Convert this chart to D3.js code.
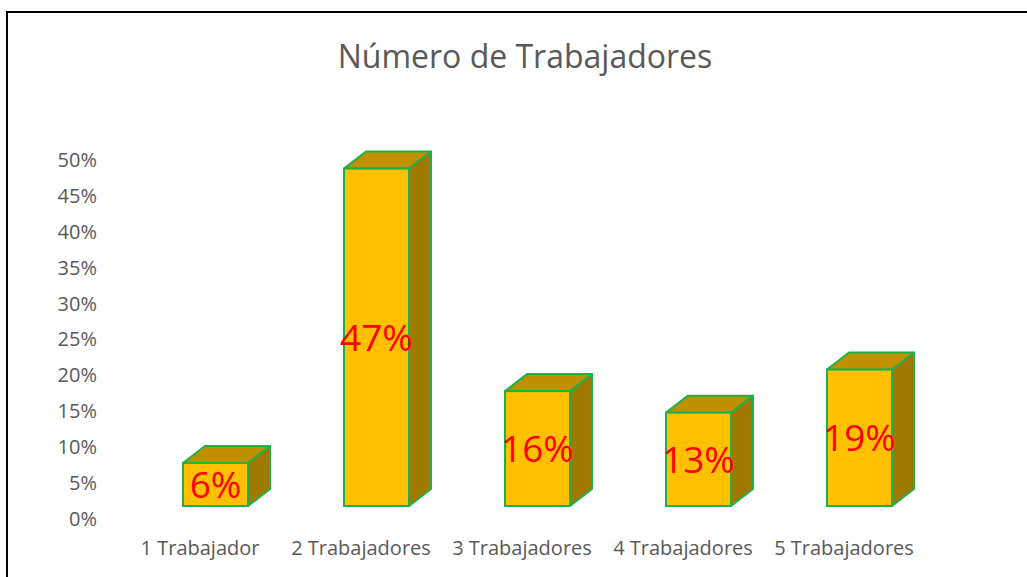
<!DOCTYPE html>
<html>
<head>
<meta charset="utf-8">
<script src="https://cdn.jsdelivr.net/npm/d3@7"></script>
<style>
  body { margin: 0; background: #fff; }
  text { font-family: "Open Sans", "Noto Sans", sans-serif; }
</style>
</head>
<body>
<div id="graph"></div>
<script>
const categories = ["1 Trabajador", "2 Trabajadores", "3 Trabajadores", "4 Trabajadores", "5 Trabajadores"];
const values = [0.06, 0.47, 0.16, 0.13, 0.19];
const tickValues = [0, 0.05, 0.10, 0.15, 0.20, 0.25, 0.30, 0.35, 0.40, 0.45, 0.50];

const width = 1027,
    height = 577,
    barW = 65,   // front face width
    depthX = 22, // 3d depth offset
    depthY = 17,
    floorLift = 13; // front of the floor sits a little above the axis zero

const svg = d3.select("#graph")
    .append("svg")
    .attr("width", width)
    .attr("height", height);

// chart frame (only left and top edges are visible)
svg.append("rect")
    .attr("x", 7).attr("y", 12)
    .attr("width", 1100).attr("height", 700)
    .attr("fill", "none")
    .attr("stroke", "#000")
    .attr("stroke-width", 2);

svg.append("text")
    .attr("x", 525).attr("y", 68)
    .attr("text-anchor", "middle")
    .attr("font-size", 32)
    .attr("fill", "#595959")
    .text("Número de Trabajadores");

const x = d3.scaleBand()
    .domain(categories)
    .range([119.5, 924.5])
    .padding(0);

const y = d3.scaleLinear()
    .domain([0, 0.5])
    .range([519, 160]);

const yAxis = d3.axisLeft(y)
    .tickValues(tickValues)
    .tickSize(0)
    .tickPadding(0)
    .tickFormat(d3.format(".0%"));

const gy = svg.append("g")
    .attr("transform", "translate(97,0)")
    .call(yAxis);
gy.select(".domain").remove();
gy.selectAll("text")
    .attr("font-size", 20)
    .attr("fill", "#595959")
    .attr("font-family", "'Open Sans', sans-serif");

const xAxis = d3.axisBottom(x).tickSize(0).tickPadding(0);
const gx = svg.append("g")
    .attr("transform", "translate(0,541)")
    .call(xAxis);
gx.select(".domain").remove();
gx.selectAll("text")
    .attr("font-size", 20)
    .attr("fill", "#595959")
    .attr("font-family", "'Open Sans', sans-serif");

const data = categories.map((c, i) => ({ cat: c, v: values[i] }));
const base = y(0) - floorLift;
const frontX = d => x(d.cat) + x.bandwidth() / 2 - 17;
const topY = d => base - (y(0) - y(d.v));

const bars = svg.selectAll("g.bar")
    .data(data)
    .enter()
    .append("g")
    .attr("class", "bar");

// side face
bars.append("path")
    .attr("d", d => {
        const x1 = frontX(d) + barW, t = topY(d);
        return `M${x1},${t}L${x1 + depthX},${t - depthY}L${x1 + depthX},${base - depthY}L${x1},${base}Z`;
    })
    .attr("fill", "#A07A00")
    .attr("stroke", "#1FB04C")
    .attr("stroke-width", 2)
    .attr("stroke-linejoin", "round");

// top face
bars.append("path")
    .attr("d", d => {
        const x0 = frontX(d), t = topY(d);
        return `M${x0},${t}L${x0 + depthX},${t - depthY}L${x0 + barW + depthX},${t - depthY}L${x0 + barW},${t}Z`;
    })
    .attr("fill", "#BF9000")
    .attr("stroke", "#1FB04C")
    .attr("stroke-width", 2)
    .attr("stroke-linejoin", "round");

// front face
bars.append("rect")
    .attr("x", frontX)
    .attr("y", topY)
    .attr("width", barW)
    .attr("height", d => base - topY(d))
    .attr("fill", "#FFC000")
    .attr("stroke", "#1FB04C")
    .attr("stroke-width", 2);

// data labels
bars.append("text")
    .attr("x", d => frontX(d) + barW / 2)
    .attr("y", d => (topY(d) + base) / 2)
    .attr("dy", "0.36em")
    .attr("text-anchor", "middle")
    .attr("font-size", 37)
    .attr("fill", "#FF0000")
    .text(d => d3.format(".0%")(d.v));
</script>
</body>
</html>
